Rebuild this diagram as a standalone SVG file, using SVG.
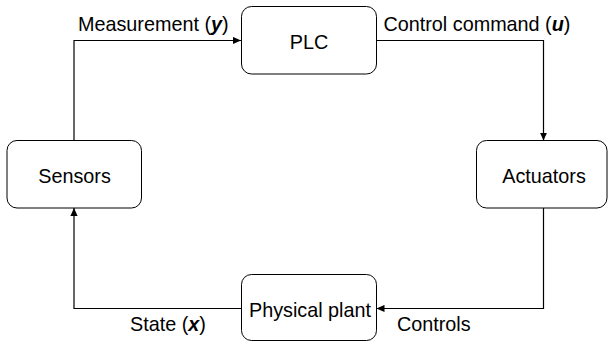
<svg xmlns="http://www.w3.org/2000/svg" width="608" height="342" viewBox="0 0 608 342">
<style>
.box{fill:#fff;stroke:#000;stroke-width:1}
.t{font-family:"Liberation Sans",Arial,sans-serif;font-size:19.8px;fill:#000}
.c{text-anchor:middle}
.line{fill:none;stroke:#000;stroke-width:1.2}
.v{font-weight:bold;font-style:italic}
</style>
<defs>
<marker id="ah" viewBox="0 0 10 10" refX="10" refY="5" markerWidth="8" markerHeight="8" markerUnits="userSpaceOnUse" orient="auto">
<path d="M0,0.5 L10,5 L0,9.5 Z" fill="#000"/>
</marker>
</defs>
<rect width="608" height="342" fill="#fff"/>
<g id="connectors">
<path class="line" d="M74,140.5 V40.5 H241" marker-end="url(#ah)"/>
<path class="line" d="M376.5,40.5 H543.5 V140.5" marker-end="url(#ah)"/>
<path class="line" d="M543.5,208 V308.5 H376.5" marker-end="url(#ah)"/>
<path class="line" d="M241.5,308.5 H74 V208" marker-end="url(#ah)"/>
<text class="t" x="78" y="30.5">Measurement (<tspan class="v">y</tspan>)</text>
<text class="t" x="383.5" y="30.5">Control command (<tspan class="v">u</tspan>)</text>
<text class="t" x="397" y="330.5">Controls</text>
<text class="t" x="130" y="330.5">State (<tspan class="v">x</tspan>)</text>
</g>
<g id="plc">
<rect class="box" x="241.5" y="6.5" width="135" height="67.5" rx="10"/>
<text class="t c" x="309" y="48.5">PLC</text>
</g>
<g id="actuators">
<rect class="box" x="476.5" y="140.5" width="130.5" height="67.5" rx="10"/>
<text class="t c" x="544" y="182.5">Actuators</text>
</g>
<g id="sensors">
<rect class="box" x="7" y="140.5" width="134.5" height="67.5" rx="10"/>
<text class="t c" x="74.5" y="182.5">Sensors</text>
</g>
<g id="plant">
<rect class="box" x="241.5" y="274.5" width="135" height="66" rx="10"/>
<text class="t c" x="310" y="316.5">Physical plant</text>
</g>
</svg>
